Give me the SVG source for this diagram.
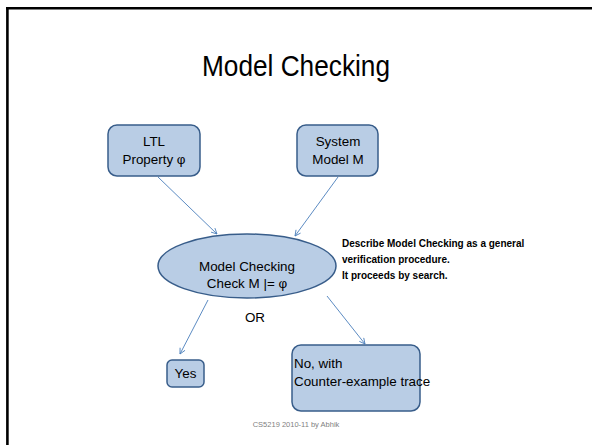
<svg xmlns="http://www.w3.org/2000/svg" width="592" height="445" viewBox="0 0 592 445">
  <defs>
    <marker id="arrow" viewBox="0 0 10 10" refX="9" refY="5" markerWidth="7" markerHeight="7" orient="auto" markerUnits="userSpaceOnUse">
      <path d="M1,1 L9,5 L1,9" fill="none" stroke="#4A7EBB" stroke-width="1.2"/>
    </marker>
  </defs>
  <style>
    .shape { fill: #B9CDE5; stroke: #385D8A; stroke-width: 1.5; }
    .lbl { font-family: "Liberation Sans", Arial, sans-serif; font-size: 13.4px; fill: #000; }
    .note { font-family: "Liberation Sans", Arial, sans-serif; font-size: 10px; font-weight: bold; fill: #000; }
    .conn { stroke: #4A7EBB; stroke-width: 0.9; fill: none; marker-end: url(#arrow); }
  </style>
  <rect width="592" height="445" fill="#FFFFFF"/>
  <!-- slide frame: top and left rules -->
  <g id="frame">
    <line x1="6" y1="8.2" x2="592" y2="8.2" stroke="#000" stroke-width="2.6"/>
    <line x1="7.4" y1="7" x2="7.4" y2="445" stroke="#000" stroke-width="2.6"/>
  </g>
  <g id="title">
    <text x="296" y="76" text-anchor="middle" font-family="Liberation Sans, Arial, sans-serif" font-size="29" textLength="188" lengthAdjust="spacingAndGlyphs">Model Checking</text>
  </g>
  <g id="connectors">
    <line class="conn" x1="158" y1="177" x2="217" y2="234"/>
    <line class="conn" x1="338" y1="177" x2="295" y2="236"/>
    <line class="conn" x1="208" y1="300" x2="180" y2="354"/>
    <line class="conn" x1="327" y1="296" x2="365" y2="344"/>
  </g>
  <g id="ltl">
    <rect class="shape" x="108" y="125" width="92" height="51" rx="9"/>
    <text class="lbl" x="154" y="146" text-anchor="middle">LTL</text>
    <text class="lbl" x="154" y="164" text-anchor="middle">Property φ</text>
  </g>
  <g id="system">
    <rect class="shape" x="297" y="125" width="81" height="51" rx="9"/>
    <text class="lbl" x="338" y="146" text-anchor="middle">System</text>
    <text class="lbl" x="338" y="164" text-anchor="middle">Model M</text>
  </g>
  <g id="check">
    <ellipse class="shape" cx="247" cy="266" rx="89" ry="32"/>
    <text class="lbl" x="247" y="271" text-anchor="middle">Model Checking</text>
    <text class="lbl" x="247" y="288" text-anchor="middle">Check M  |= φ</text>
  </g>
  <g id="note">
    <text class="note" x="342" y="247">Describe Model Checking as a general</text>
    <text class="note" x="342" y="263">verification procedure.</text>
    <text class="note" x="342" y="279">It proceeds by search.</text>
  </g>
  <g id="or">
    <text class="lbl" x="255" y="322" text-anchor="middle" font-size="11">OR</text>
  </g>
  <g id="yes">
    <rect class="shape" x="167" y="360" width="37" height="27" rx="5"/>
    <text class="lbl" x="185.5" y="378" text-anchor="middle">Yes</text>
  </g>
  <g id="no">
    <rect class="shape" x="292" y="345" width="128" height="66" rx="9"/>
    <text class="lbl" x="294" y="368">No, with</text>
    <text class="lbl" x="294" y="386">Counter-example trace</text>
  </g>
  <g id="footer">
    <text x="296" y="427" text-anchor="middle" font-family="Liberation Sans, Arial, sans-serif" font-size="7.5" fill="#7F7F7F">CS5219 2010-11 by Abhik</text>
  </g>
</svg>
